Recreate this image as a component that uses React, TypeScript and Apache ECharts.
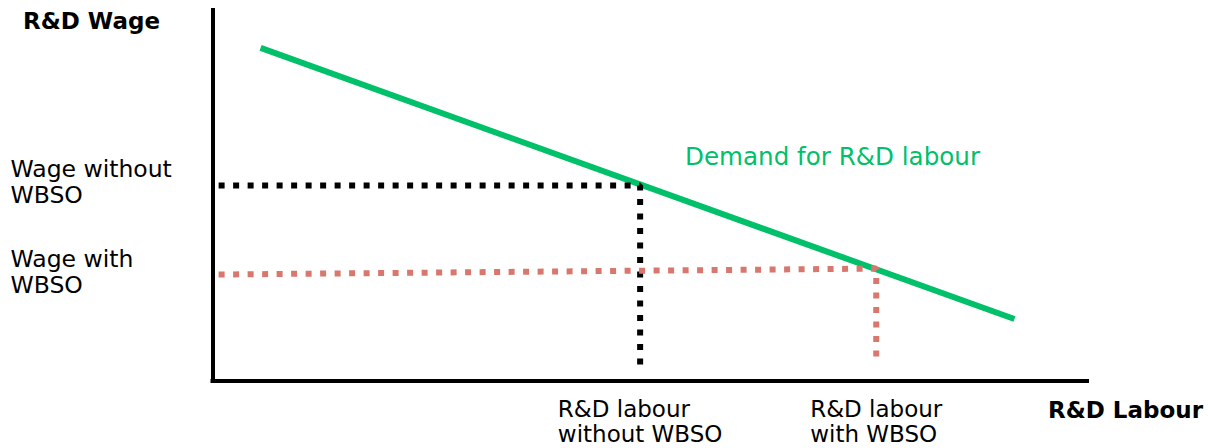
import React, { useEffect, useRef } from "react";
import * as echarts from "echarts";

// ---- data (abstract units: x 0..100, y 0..100) ----
const demandCurve: number[][] = [
  [5.5, 89.8],
  [91.7, 16.7],
];
const wageWithout = 52.7;
const wageWithLeft = 28.7;
const wageWithRight = 30.3;
const labourWithout = 48.9;
const labourWith = 75.9;
const dottedStartX = 0.7;
const dottedEndYWithout = 4.3;
const dottedEndYWith = 4.9;

const yTickValues = [wageWithout, wageWithLeft];
const yTickLabels = [["Wage without", "WBSO"], ["Wage with", "WBSO"]];
const xTickValues = [labourWithout, labourWith];
const xTickLabels = [["R&D labour", "without WBSO"], ["R&D labour", "with WBSO"]];
const axisTitles = ["R&D Wage", "R&D Labour"];
const curveLabel = "Demand for R&D labour";

const GREEN = "#00C06A";
const RED = "#D7776E";
const FONT = '"DejaVu Sans", Verdana, sans-serif';

function pick(values: number[], labels: string[][], v: number) {
  let best = 0;
  for (let i = 1; i < values.length; i++) {
    if (Math.abs(values[i] - v) < Math.abs(values[best] - v)) best = i;
  }
  return labels[best].map((s) => "{a|" + s + "}").join("\n");
}

export default function App() {
  const ref = useRef<HTMLDivElement>(null);

  useEffect(() => {
    document.body.style.margin = "0";
    document.body.style.overflow = "hidden";
    if (!ref.current) return;
    const chart = echarts.init(ref.current, undefined, { renderer: "svg" });

    const blackPath = [
      [dottedStartX, wageWithout],
      [labourWithout, wageWithout],
      [labourWithout, dottedEndYWithout],
    ];
    const redPath = [
      [dottedStartX, wageWithLeft],
      [labourWith, wageWithRight],
      [labourWith, dottedEndYWith],
    ];

    chart.setOption({
      animation: false,
      backgroundColor: "#ffffff",
      grid: {
        left: 212.5,
        top: 10,
        width: 874.5,
        height: 371,
        containLabel: false,
        outerBoundsMode: "none",
      },
      xAxis: {
        type: "value",
        min: 0,
        max: 100,
        splitLine: { show: false },
        axisTick: { show: false },
        axisLine: { show: true, lineStyle: { color: "#000", width: 4, cap: "square" } },
        axisLabel: {
          customValues: xTickValues,
          margin: 15,
          align: "center",
          verticalAlign: "top",
          formatter: (v: number) => pick(xTickValues, xTickLabels, v),
          rich: {
            a: {
              align: "left",
              fontFamily: FONT,
              fontSize: 23,
              lineHeight: 25,
              color: "#000",
            },
          },
        },
      },
      yAxis: {
        type: "value",
        min: 0,
        max: 100,
        splitLine: { show: false },
        axisTick: { show: false },
        axisLine: { show: true, lineStyle: { color: "#000", width: 4, cap: "square" } },
        axisLabel: {
          customValues: yTickValues,
          margin: 202,
          align: "left",
          verticalAlign: "middle",
          padding: [0, 0, 6, 0],
          formatter: (v: number) => pick(yTickValues, yTickLabels, v),
          rich: {
            a: {
              align: "left",
              fontFamily: FONT,
              fontSize: 23.5,
              lineHeight: 26,
              color: "#000",
            },
          },
        },
      },
      series: [
        {
          type: "line",
          data: demandCurve,
          symbol: "none",
          lineStyle: { color: GREEN, width: 6, cap: "butt" },
          z: 2,
        },
        {
          type: "line",
          data: blackPath,
          symbol: "none",
          lineStyle: { color: "#000", width: 6, type: [6, 8.5], cap: "butt" },
          z: 3,
        },
        {
          type: "line",
          data: redPath,
          symbol: "none",
          lineStyle: { color: RED, width: 6, type: [6, 8.5], cap: "butt" },
          z: 3,
        },
      ],
      graphic: [
        {
          type: "text",
          x: 23,
          y: 21,
          style: {
            text: axisTitles[0],
            font: 'bold 23px "DejaVu Sans", Verdana, sans-serif',
            fill: "#000",
            align: "left",
            verticalAlign: "middle",
          },
        },
        {
          type: "text",
          x: 1048,
          y: 410,
          style: {
            text: axisTitles[1],
            font: 'bold 23px "DejaVu Sans", Verdana, sans-serif',
            fill: "#000",
            align: "left",
            verticalAlign: "middle",
          },
        },
        {
          type: "text",
          x: 685,
          y: 156,
          style: {
            text: curveLabel,
            font: '24.6px "DejaVu Sans", Verdana, sans-serif',
            fill: GREEN,
            align: "left",
            verticalAlign: "middle",
          },
        },
      ],
    });

    return () => chart.dispose();
  }, []);

  return <div ref={ref} style={{ width: 1208, height: 448 }} />;
}
